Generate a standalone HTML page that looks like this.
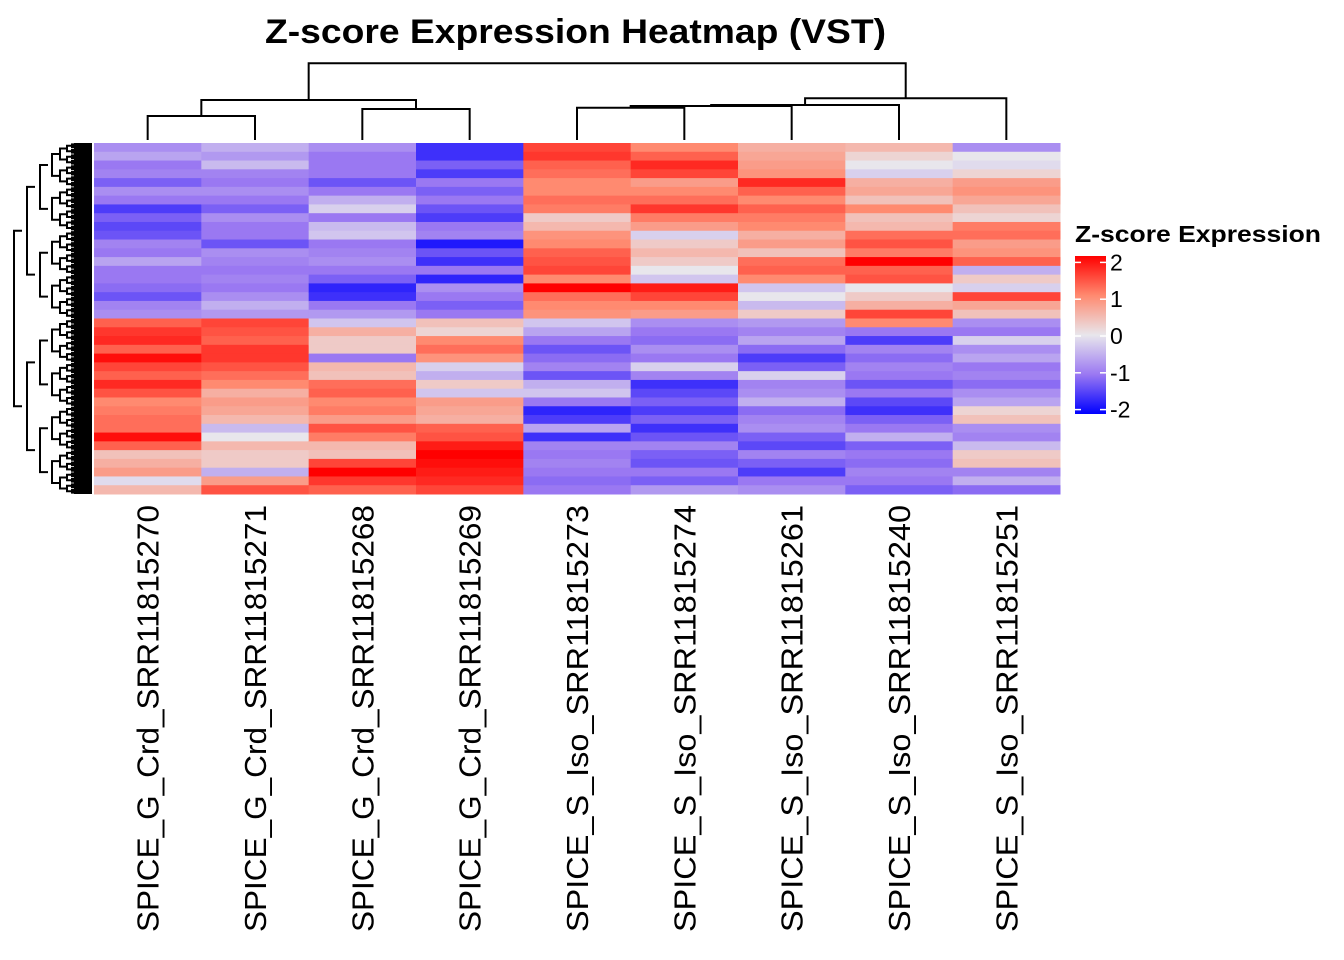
<!DOCTYPE html>
<html><head><meta charset="utf-8"><style>
html,body{margin:0;padding:0;background:#fff;}
svg{display:block;font-family:"Liberation Sans",Arial,sans-serif;}
</style></head><body>
<svg id="chart" width="1344" height="960" viewBox="0 0 1344 960" xmlns="http://www.w3.org/2000/svg">
<text x="265" y="43" font-size="34" font-weight="bold" textLength="621" lengthAdjust="spacingAndGlyphs">Z-score Expression Heatmap (VST)</text>
<g id="cells"></g>
<g id="coldend"></g>
<g id="rowdend"></g>
<g id="labels"></g>
<g>
<text x="1075" y="242" font-size="23" font-weight="bold" textLength="246" lengthAdjust="spacingAndGlyphs">Z-score Expression</text>
<defs><linearGradient id="lg" x1="0" y1="0" x2="0" y2="1">
<stop offset="0" stop-color="#ff0000"/><stop offset="0.25" stop-color="#ff8a70"/><stop offset="0.5" stop-color="#e8e6ec"/><stop offset="0.75" stop-color="#9a78f2"/><stop offset="1" stop-color="#0000ff"/></linearGradient></defs>
<rect x="1075" y="256" width="31" height="158" fill="url(#lg)"/>
<g id="legticks"></g>
</g>
</svg>
<script>
const samples=["SPICE_G_Crd_SRR11815270","SPICE_G_Crd_SRR11815271","SPICE_G_Crd_SRR11815268","SPICE_G_Crd_SRR11815269","SPICE_S_Iso_SRR11815273","SPICE_S_Iso_SRR11815274","SPICE_S_Iso_SRR11815261","SPICE_S_Iso_SRR11815240","SPICE_S_Iso_SRR11815251"];
const col1=[-0.8,-0.6,-1,-0.9,-1.2,-0.8,-1,-1.5,-1.2,-1.4,-1.3,-0.9,-1,-0.6,-1,-1,-1.1,-1.3,-0.9,-0.8, 1.3,1.6,1.7,1.3,1.9,1.5,1.3,1.7,1.4,1,1.1,1.2,1.2,1.9,1.3,0.4,0.6,0.8,-0.1,0.5];
const col2=[-0.5,-0.7,-0.4,-0.9,-1,-0.8,-1,-1.2,-0.8,-1,-1,-1.3,-0.8,-0.9,-1,-0.9,-1,-0.8,-0.5,-0.7, 1.5,1.4,1.3,1.6,1.6,1.4,1.2,1,0.6,0.8,0.7,0.5,-0.4,0,0.5,0.3,0.3,-0.5,0.8,1.4];
const col3=[-0.8,-1,-1,-1,-1.3,-1,-0.5,-0.2,-1,-0.4,-0.3,-1,-0.9,-0.8,-1,-1.2,-1.7,-1.6,-1,-0.7, -0.3,0.6,0.3,0.3,-1,0.5,0.4,1.2,1.3,1,1.1,0.8,1.4,1.1,0.5,0.4,1.5,2,1.6,1.3];
const col4=[-1.6,-1.6,-1.2,-1.5,-1,-1.2,-1,-1.3,-1.5,-1,-0.9,-1.8,-1.3,-1.6,-1,-1.7,-0.8,-1,-1.2,-1, 0.4,0.2,1,1.2,0.9,-0.2,-0.5,0.3,-0.3,0.8,0.7,0.6,1.3,1.4,1.8,2,1.9,1.8,1.7,1.5];
const col5=[1.5,1.6,1.3,1.2,1,1,1.2,1.1,0.3,0.5,0.9,1,1.3,1.4,1.5,1,2,1.2,1,0.9, -0.3,-0.6,-1,-1.3,-1.1,-0.9,-1.3,-0.5,-0.3,-1,-1.7,-1.5,-0.6,-1.6,-0.9,-1,-0.9,-1,-1.1,-1];
const col6=[1,1.3,1.7,1.5,0.8,1,1.2,1.6,1.1,0.8,-0.2,0.3,0.5,0.3,0,-0.3,1.8,1.5,1,0.8, -0.8,-1,-1.1,-0.8,-1,-0.2,-0.9,-1.6,-1.4,-1.2,-1.5,-1.2,-1.6,-1.3,-0.9,-1.2,-1.3,-1,-1.2,-0.7];
const col7=[0.6,0.7,0.8,0.9,1.7,1.3,1,1.3,1.1,1,0.6,0.8,0.4,1.2,1.3,1,-0.3,0,-0.4,0.3, -0.7,-0.9,-0.6,-1.1,-1.5,-1.2,-0.2,-0.9,-0.8,-0.5,-1.1,-0.9,-0.8,-1.2,-1.4,-0.9,-1.2,-1.5,-1,-0.8];
const col8=[0.5,0.2,0,-0.2,0.6,0.7,0.4,1,0.4,0.5,1.2,1.4,1.1,2,1.3,1.4,0,0.3,0.6,1.5, 1,-1,-1.5,-0.9,-1.1,-0.9,-1,-1.3,-1,-1.4,-1.6,-1.2,-1,-0.5,-1.2,-1,-1.1,-0.9,-1,-1.2];
const col9=[-0.8,0,-0.1,0.2,0.8,0.9,0.7,0.4,0.2,1.1,1.2,0.8,0.9,1.3,-0.5,0.3,-0.2,1.5,0.7,0.4, -0.8,-1,-0.2,-0.8,-0.6,-1,-0.9,-1.1,-0.8,-0.6,0.2,0.4,-0.8,-0.9,-0.4,0.3,0.4,-0.9,-0.5,-1.1];
const legendTicks=[2,1,0,-1,-2];
const columns=[col1,col2,col3,col4,col5,col6,col7,col8,col9];
const NS="http://www.w3.org/2000/svg";
const X0=94,X1=1060,Y0=143,Y1=494;
const nRows=col1.length, cw=(X1-X0)/samples.length, rh=(Y1-Y0)/nRows;
function xCol(i){return X0+i*cw;}
function yRow(r){return Y0+r*rh;}
const stops=[[-2,[0,0,255]],[-1,[154,120,242]],[0,[232,230,236]],[1,[255,138,112]],[2,[255,0,0]]];
function color(v){
  v=Math.max(-2,Math.min(2,v));
  let k=0; while(k<stops.length-2&&v>stops[k+1][0])k++;
  const [a,ca]=stops[k],[b,cb]=stops[k+1];
  const t=(v-a)/(b-a);
  const c=ca.map((x,j)=>Math.round(x+(cb[j]-x)*t));
  return `rgb(${c.join(',')})`;
}
function mk(tag,attrs,parent){const e=document.createElementNS(NS,tag);for(const k in attrs)e.setAttribute(k,attrs[k]);parent.appendChild(e);return e;}
const cells=document.getElementById('cells');
columns.forEach((col,i)=>{col.forEach((v,r)=>{
  const e=mk('rect',{x:xCol(i),y:yRow(r),width:cw+0.5,height:rh+0.5,fill:color(v)},cells);
  
  
});});
const lab=document.getElementById('labels');
samples.forEach((s,i)=>{
  const cx=xCol(i)+cw/2+11;
  const t=mk('text',{x:0,y:0,transform:`translate(${cx},505) rotate(-90)`,'text-anchor':'end','font-size':31,textLength:427,lengthAdjust:'spacingAndGlyphs'},lab);
  t.textContent=s;
  
  
});
const cd=document.getElementById('coldend');
function cc(i){return xCol(i)+cw/2;}
function link(xa,ya,xb,yb,h){
  const p=mk('path',{d:`M${xa},${ya}V${h}H${xb}V${yb}`,fill:'none',stroke:'#000','stroke-width':2},cd);
  
  
}
const L=140;
link(cc(0),L,cc(1),L,116);
link(cc(2),L,cc(3),L,109);
const a=(cc(0)+cc(1))/2,b=(cc(2)+cc(3))/2;
link(a,116,b,109,100);
link(cc(4),L,cc(5),L,107.7);
const c56=(cc(4)+cc(5))/2;
link(c56,107.7,cc(6),L,106);
const c567=(c56+cc(6))/2;
link(c567,106,cc(7),L,105);
const c5678=(c567+cc(7))/2;
link(c5678,105,cc(8),L,98.3);
const cr=(c5678+cc(8))/2, cl=(a+b)/2;
link(cl,100,cr,98.3,63.3);
const rd=document.getElementById('rowdend');
function rtree(lo,hi,depth){
  const y=(lo+hi)/2;
  if(hi-lo<5||depth>7){return y;}
  const mid=(lo+hi)/2;
  const x=[14,27,40,52,60,67,72,78][depth];
  const y1=rtree(lo,mid,depth+1), y2=rtree(mid,hi,depth+1);
  const p=mk('path',{d:`M${x+8},${y1}H${x}V${y2}H${x+8}`,fill:'none',stroke:'#000','stroke-width':2},rd);
  
  
  return (y1+y2)/2;
}
rtree(143,494,0);
const blk=mk('rect',{x:74,y:143,width:18,height:351,fill:'#000'},rd);


const lt=document.getElementById('legticks');
legendTicks.forEach(v=>{
  const y=336-v*36.8;
  const l1=mk('line',{x1:1075,x2:1081,y1:y,y2:y,stroke:'#fff','stroke-width':1.5},lt);
  
  
  const l2=mk('line',{x1:1100,x2:1106,y1:y,y2:y,stroke:'#fff','stroke-width':1.5},lt);
  
  
  const t=mk('text',{x:1110,y:y+8,'font-size':23},lt);
  t.textContent=String(v);
  
  
});
</script>
</body></html>
